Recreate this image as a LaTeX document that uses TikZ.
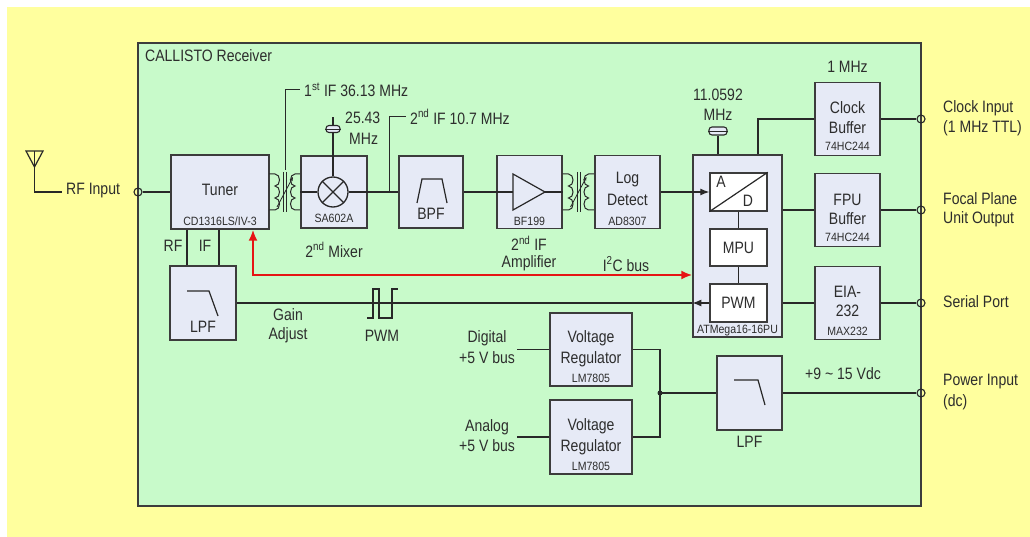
\documentclass[tikz,border=0pt]{standalone}
\usepackage{fontspec}
\setmainfont{Liberation Sans}
\newfontfamily\narrowfont[FakeStretch=0.85]{Liberation Sans}
\newfontfamily\smallfont[FakeStretch=0.88]{Liberation Sans}
\usetikzlibrary{arrows.meta}
\definecolor{yel}{RGB}{255,255,158}
\definecolor{grn}{RGB}{200,250,202}
\definecolor{boxc}{RGB}{230,234,246}
\definecolor{bordc}{RGB}{60,60,60}
\definecolor{linec}{RGB}{40,40,40}
\definecolor{textc}{RGB}{45,45,45}
\definecolor{redc}{RGB}{230,20,20}
\tikzset{
  xfmr/.pic={
    \draw[draw=linec, line width=1pt] (-16,-18) -- (-10,-18)
      .. controls (-4,-18) and (-4,-6) .. (-10,-6)
      .. controls (-4,-6) and (-4,6) .. (-10,6)
      .. controls (-4,6) and (-4,18) .. (-10,18) -- (-16,18);
    \draw[draw=linec, line width=1pt] (16,-18) -- (10,-18)
      .. controls (4,-18) and (4,-6) .. (10,-6)
      .. controls (4,-6) and (4,6) .. (10,6)
      .. controls (4,6) and (4,18) .. (10,18) -- (16,18);
    \draw[draw=linec, line width=0.9pt] (-1.5,-20) -- (-1.5,20) (1.5,-20) -- (1.5,20);
    \draw[draw=linec, line width=0.8pt, -{Stealth[length=4pt,width=3pt]}] (-8,15) -- (8,-15);
  }
}
\begin{document}
\begin{tikzpicture}[x=1pt,y=-1pt,
  line/.style={draw=linec, line width=1.2pt},
  box/.style={draw=bordc, fill=boxc, line width=1.4pt, inner sep=0pt},
  wbox/.style={draw=bordc, fill=white, line width=1.4pt, inner sep=0pt},
  lbl/.style={inner sep=0pt, font=\narrowfont\fontsize{16.5}{19}\selectfont, text=textc},
  sm/.style={inner sep=0pt, font=\smallfont\fontsize{12}{14}\selectfont, text=textc},
  term/.style={circle, draw=linec, line width=1.1pt, minimum size=8pt, inner sep=0pt},
  xtal/.style={draw=linec, line width=1.1pt, fill=boxc, rounded corners=3pt, inner sep=0pt},
  redl/.style={draw=redc, line width=2pt},
]
\useasboundingbox (0,0) rectangle (1030,537);
\fill[white] (0,0) rectangle (1030,537);
\fill[yel] (7,7) rectangle (1030,537);
\draw[fill=grn, draw=bordc, line width=1.2pt] (138,43) rectangle (921,506);
\node[lbl, anchor=west] (title) at (145,56) {CALLISTO Receiver};

% antenna + RF input
\draw[line] (26,151) -- (43,151) -- (34.5,167) -- cycle;
\coordinate (antt) at (34.5,151);
\coordinate (antb) at (34.5,192);
\coordinate (ante) at (62,192);
\draw[line] (antt) -- (antb) -- (ante);
\node[lbl, anchor=west] (rfin) at (66,191) {RF Input};
\node[term] (trf) at (138,192) {};

% tuner
\node[box, minimum width=98pt, minimum height=74pt] (tuner) at (220,192) {};
\node[lbl] at (220,190) {Tuner};
\node[sm] at (220,221) {CD1316LS/IV-3};
\draw[line] (trf) -- (tuner.west);

% left LPF
\node[box, minimum width=66pt, minimum height=74pt] (lpf1) at (203,303) {};
\draw[line] (187,291) -- (209,291) -- (218,316);
\node[lbl] at (203,327) {LPF};
\coordinate (xrf) at (187,250);
\coordinate (xif) at (219,250);
\draw[line] (xrf |- tuner.south) -- (xrf |- lpf1.north);
\draw[line] (xif |- tuner.south) -- (xif |- lpf1.north);
\node[lbl] at (173,246) {RF};
\node[lbl] at (205,246) {IF};

% transformer 1
\pic at (285,192) {xfmr};
\coordinate (if1a) at (285,170);
\coordinate (if1b) at (285,90);
\coordinate (if1c) at (300,90);
\draw[line, line width=1pt] (if1a) -- (if1b) -- (if1c);
\node[lbl, anchor=west] at (304,90) {1\textsuperscript{st} IF 36.13 MHz};

% mixer
\node[box, minimum width=66pt, minimum height=72pt] (mixer) at (334,192) {};
\node[circle, draw=linec, line width=1.3pt, minimum size=30pt, inner sep=0pt] (mx) at (333,192) {};
\draw[line] (mx.north west) -- (mx.south east) (mx.north east) -- (mx.south west);
\draw[line] (mixer.west |- mx) -- (mx.west);
\node[sm] at (334,218) {SA602A};
\node[lbl] at (334,250) {2\textsuperscript{nd} Mixer};
\node[xtal, minimum width=14pt, minimum height=7pt] (x1) at (333,129) {};
\draw[linec, line width=0.8pt] (x1.west) -- (x1.east);
\coordinate (x1t) at (333,117);
\draw[line] (mx.north) -- (x1.south);
\draw[line] (x1.north) -- (x1t);
\node[lbl, anchor=west] at (345,118) {25.43};
\node[lbl, anchor=west] at (349,139) {MHz};

% 2nd IF tap
\coordinate (if2) at (389,192);
\coordinate (if2b) at (389,117);
\coordinate (if2c) at (406,117);
\draw[line, line width=1pt] (if2) -- (if2b) -- (if2c);
\node[lbl, anchor=west] at (410,117) {2\textsuperscript{nd} IF 10.7 MHz};

% BPF
\node[box, minimum width=64pt, minimum height=72pt] (bpf) at (431,192) {};
\draw[line] (417,203) -- (422,179) -- (442,179) -- (447,203);
\node[lbl] at (431,214) {BPF};
\draw[line] (mx.east) -- (bpf.west);

% amplifier
\node[box, minimum width=65pt, minimum height=73pt] (amp) at (529.5,192) {};
\draw[line] (513,174) -- (513,210) -- (545,192) -- cycle;
\coordinate (ampi) at (513,192);
\coordinate (ampo) at (545,192);
\draw[line] (amp.west) -- (ampi);
\draw[line] (ampo) -- (amp.east);
\node[sm] at (529.5,221) {BF199};
\draw[line] (bpf.east) -- (amp.west);
\node[lbl] at (529,243) {2\textsuperscript{nd} IF};
\node[lbl] at (529,263) {Amplifier};

% transformer 2
\pic at (578.5,192) {xfmr};

% log detect
\node[box, minimum width=65pt, minimum height=73pt] (logd) at (627.5,192) {};
\node[lbl] at (627.5,180) {Log};
\node[lbl] at (627.5,200) {Detect};
\node[sm] at (627.5,221) {AD8307};

% ATMega
\node[box, minimum width=89pt, minimum height=182pt] (atm) at (737.5,246) {};
\node[wbox, minimum width=57pt, minimum height=38pt] (ad) at (738.5,192) {};
\node[wbox, minimum width=57pt, minimum height=37pt] (mpu) at (738.5,247.5) {};
\node[wbox, minimum width=57pt, minimum height=38pt] (pwm) at (738.5,303) {};
\draw[line] (ad.south west) -- (ad.north east);
\node[lbl] at (721,182) {A};
\node[lbl] at (748,201) {D};
\node[lbl] at (738.5,247.5) {MPU};
\node[lbl] at (738.5,303) {PWM};
\node[sm] at (737.5,331) {ATMega16-16PU};
\draw[line] (ad.south) -- (mpu.north);
\draw[line] (mpu.south) -- (pwm.north);
\draw[line, -{Latex[length=9pt,width=7pt]}] (logd.east) -- (ad.west);
\node[xtal, minimum width=18pt, minimum height=8pt] (x2) at (718,131) {};
\draw[linec, line width=0.8pt] (x2.west) -- (x2.east);
\draw[line] (x2.south) -- (x2.south |- atm.north);
\node[lbl] at (718,95) {11.0592};
\node[lbl] at (718,115) {MHz};

% I2C bus
\coordinate (r1) at (253,275);
\draw[redl, {Latex[length=11pt,width=9pt]}-{Latex[length=11pt,width=9pt]}] (r1 |- tuner.south) -- (r1) -- (atm.west |- r1);
\node[lbl] at (626,264) {I\textsuperscript{2}C bus};

% gain adjust / PWM
\coordinate (pa) at (atm.west |- pwm);
\draw[line, -{Latex[length=9pt,width=7pt]}] (pwm.west) -- (pa);
\draw[line] (pa) -- (lpf1.east |- pa);
\draw[line] (367,318) -- (373,318) -- (373,289) -- (379,289) -- (379,318) -- (392,318) -- (392,289) -- (398,289);
\node[lbl] at (288,315) {Gain};
\node[lbl] at (288,335) {Adjust};
\node[lbl] at (382,336) {PWM};

% right-hand buffers
\node[box, minimum width=65pt, minimum height=73pt] (clk) at (847.5,119) {};
\node[lbl] at (847.5,67) {1 MHz};
\node[lbl] at (847.5,108) {Clock};
\node[lbl] at (847.5,128) {Buffer};
\node[sm] at (847.5,146) {74HC244};
\coordinate (c1) at (758,119);
\draw[line] (c1 |- atm.north) -- (c1) -- (clk.west);

\node[box, minimum width=65pt, minimum height=73pt] (fpu) at (847.5,210) {};
\node[lbl] at (847.5,200) {FPU};
\node[lbl] at (847.5,219) {Buffer};
\node[sm] at (847.5,237) {74HC244};
\draw[line] (atm.east |- fpu) -- (fpu.west);

\node[box, minimum width=65pt, minimum height=73pt] (eia) at (847.5,303) {};
\node[lbl] at (847.5,292) {EIA-};
\node[lbl] at (847.5,311) {232};
\node[sm] at (847.5,331) {MAX232};
\draw[line] (atm.east |- eia) -- (eia.west);

% terminals on right
\node[term] (tclk) at (921,119) {};
\node[term] (tfpu) at (921,210) {};
\node[term] (tser) at (921,303) {};
\node[term] (tpow) at (921,393) {};
\draw[line] (clk.east) -- (tclk);
\draw[line] (fpu.east) -- (tfpu);
\draw[line] (eia.east) -- (tser);

\node[lbl, anchor=west] at (943,108) {Clock Input};
\node[lbl, anchor=west] at (943,128) {(1 MHz TTL)};
\node[lbl, anchor=west] at (943,199) {Focal Plane};
\node[lbl, anchor=west] at (943,219) {Unit Output};
\node[lbl, anchor=west] at (943,302) {Serial Port};
\node[lbl, anchor=west] at (943,382) {Power Input};
\node[lbl, anchor=west] at (943,402) {(dc)};

% power LPF
\node[box, minimum width=65pt, minimum height=74pt] (lpf2) at (749.5,393) {};
\draw[line] (734,380) -- (758,380) -- (765,405);
\node[lbl] at (749.5,442) {LPF};
\draw[line] (lpf2.east) -- (tpow);
\node[lbl] at (843,374) {+9 \textasciitilde{} 15 Vdc};

% voltage regulators
\node[box, minimum width=82pt, minimum height=73pt] (vr1) at (591,349.5) {};
\node[lbl] at (591,338) {Voltage};
\node[lbl] at (591,359) {Regulator};
\node[sm] at (591,378) {LM7805};
\node[box, minimum width=82pt, minimum height=74pt] (vr2) at (591,437) {};
\node[lbl] at (591,426) {Voltage};
\node[lbl] at (591,447) {Regulator};
\node[sm] at (591,466) {LM7805};
\coordinate (j) at (660,393);
\draw[line] (vr1.east) -- (vr1.east -| j) -- (vr2.east -| j) -- (vr2.east);
\fill[linec] (j) circle (2.5);
\draw[line] (j) -- (lpf2.west);
\coordinate (dg) at (517,349.5);
\coordinate (an) at (517,437);
\draw[line] (dg) -- (vr1.west);
\draw[line] (an) -- (vr2.west);
\node[lbl] at (487,338) {Digital};
\node[lbl] at (487,358) {+5 V bus};
\node[lbl] at (487,427) {Analog};
\node[lbl] at (487,446) {+5 V bus};
\end{tikzpicture}
\end{document}
